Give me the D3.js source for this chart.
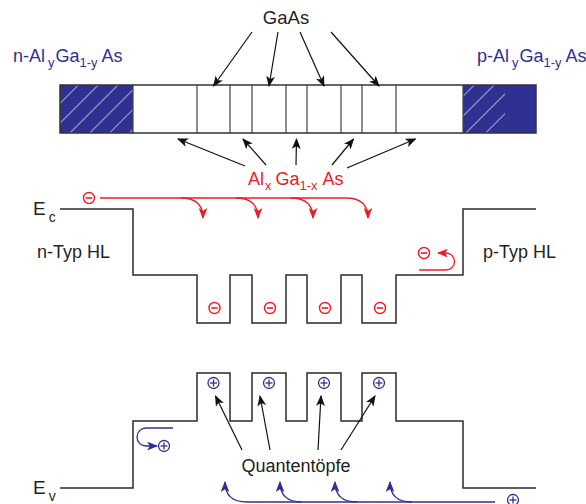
<!DOCTYPE html>
<html><head><meta charset="utf-8">
<script src="https://cdn.jsdelivr.net/npm/d3@7"></script>
<style>html,body{margin:0;padding:0;background:#fff;}svg{display:block;font-family:"Liberation Sans",Arial,Helvetica,sans-serif;}</style>
</head><body>
<script>
// ---- data ----
const layerTypes  = ["clad","barrier","well","barrier","well","barrier","well","barrier","well","barrier","clad"];
const layerWidths = [73, 64, 33, 22, 34, 21, 34, 21, 34, 67, 73];       // position units (scaled)
const bandTypes   = ["clad","barrier","well"];
const ecEnergy    = [2.79, 2.13, 1.65];   // conduction band edge (rel. units)
const evEnergy    = [0.00, 0.67, 1.15];   // valence band edge
const labelTexts  = {gaas:"GaAs", qw:"Quantentöpfe", nHL:"n-Typ HL", pHL:"p-Typ HL"};

const W = 586, H = 504;
const blue = "#2e3192", red = "#ed1c24", ink = "#2b2b2b";

const bounds = [0];
layerWidths.forEach(w => bounds.push(bounds[bounds.length-1] + w));
const layers = layerTypes.map((t,i)=>({type:t, x0:bounds[i], x1:bounds[i+1], c:(bounds[i]+bounds[i+1])/2, i}));
const wells = layers.filter(l=>l.type==="well");

const x = d3.scaleLinear().domain([0, bounds[bounds.length-1]]).range([60, 536]);
const y = d3.scaleLinear().domain([0, 2.79]).range([488, 209]);
const ec = t => ecEnergy[bandTypes.indexOf(t)];
const ev = t => evEnergy[bandTypes.indexOf(t)];

const svg = d3.select("body").append("svg").attr("width", W).attr("height", H);
const defs = svg.append("defs");

// hatch pattern
const pat = defs.append("pattern").attr("id","hatch").attr("patternUnits","userSpaceOnUse")
  .attr("width",14).attr("height",14).attr("patternTransform","rotate(45) translate(3,0)");
pat.append("rect").attr("width",14).attr("height",14).attr("fill",blue);
pat.append("line").attr("x1",0).attr("y1",0).attr("x2",0).attr("y2",14).attr("stroke","#e4e4f4").attr("stroke-width",1.3);

function marker(id, color){
  defs.append("marker").attr("id",id).attr("viewBox","0 0 10 8").attr("refX",9).attr("refY",4)
    .attr("markerWidth",11).attr("markerHeight",9).attr("markerUnits","userSpaceOnUse").attr("orient","auto")
    .append("path").attr("d","M0,0 L10,4 L0,8 L2.5,4 z").attr("fill",color);
}
marker("ah-k", "#111"); marker("ah-r", red); marker("ah-b", blue);

// ---- layer bar ----
const barTop = 85, barBot = 133;
const bar = svg.append("g");
bar.selectAll("rect.layer").data(layers).join("rect")
  .attr("x", d=>x(d.x0)).attr("y", barTop).attr("width", d=>x(d.x1)-x(d.x0)).attr("height", barBot-barTop)
  .attr("fill", d=>d.type==="clad" ? "url(#hatch)" : "#fff");
// right cladding: hatch only partly drawn -> plain blue on its right part
const rc = layers[layers.length-1];
bar.append("rect").attr("x", x(rc.x0)+42).attr("y", barTop).attr("width", x(rc.x1)-x(rc.x0)-42).attr("height", barBot-barTop).attr("fill", blue);
bar.selectAll("line.sep").data(bounds.slice(1,-1)).join("line")
  .attr("x1", d=>x(d)).attr("x2", d=>x(d)).attr("y1", barTop).attr("y2", barBot)
  .attr("stroke", "#444").attr("stroke-width", 1.2);
bar.append("rect").attr("x", x(0)).attr("y", barTop).attr("width", x(bounds[bounds.length-1])-x(0)).attr("height", barBot-barTop)
  .attr("fill","none").attr("stroke","#333").attr("stroke-width",1.5);

// ---- band edges ----
function bandPath(fn){
  const p = d3.path();
  layers.forEach((l,i)=>{
    const yy = y(fn(l.type));
    if(i===0) p.moveTo(x(l.x0), yy); else p.lineTo(x(l.x0), yy);
    p.lineTo(x(l.x1), yy);
  });
  return p.toString();
}
svg.append("path").attr("d", bandPath(ec)).attr("fill","none").attr("stroke",ink).attr("stroke-width",1.5);
svg.append("path").attr("d", bandPath(ev)).attr("fill","none").attr("stroke",ink).attr("stroke-width",1.5);

// ---- carriers ----
function minus(g, cx, cy){
  g.append("circle").attr("cx",cx).attr("cy",cy).attr("r",5.5).attr("fill","none").attr("stroke",red).attr("stroke-width",1.4);
  g.append("line").attr("x1",cx-3.2).attr("x2",cx+3.2).attr("y1",cy).attr("y2",cy).attr("stroke",red).attr("stroke-width",1.6);
}
function plus(g, cx, cy){
  g.append("circle").attr("cx",cx).attr("cy",cy).attr("r",5.5).attr("fill","none").attr("stroke",blue).attr("stroke-width",1.3);
  g.append("line").attr("x1",cx-3.5).attr("x2",cx+3.5).attr("y1",cy).attr("y2",cy).attr("stroke",blue).attr("stroke-width",1.3);
  g.append("line").attr("x1",cx).attr("x2",cx).attr("y1",cy-3.5).attr("y2",cy+3.5).attr("stroke",blue).attr("stroke-width",1.3);
}
const cg = svg.append("g");
wells.forEach(w=>{ minus(cg, x(w.c)+1, y(ec("well"))-15); plus(cg, x(w.c), y(ev("well"))+10); });

// injected electrons (top)
const eY = y(ec("clad")) - 11;
minus(cg, 89, eY);
const tipsE = wells.map(w => x(w.x0)+6);
const eLine = d3.path(); eLine.moveTo(100, eY); eLine.lineTo(tipsE[tipsE.length-1]-22, eY);
svg.append("path").attr("d", eLine.toString()).attr("stroke",red).attr("stroke-width",1.3).attr("fill","none");
tipsE.forEach(t=>{
  svg.append("path").attr("d",`M${t-22},${eY} C${t-8},${eY} ${t},${eY+6} ${t},${eY+20}`)
    .attr("stroke",red).attr("stroke-width",1.3).attr("fill","none").attr("marker-end","url(#ah-r)");
});
// reflected electron (right)
const rY = y(ec("barrier")) - 5;
minus(cg, 424, rY-17);
svg.append("path").attr("d",`M419,${rY} H446 A8.5,8.5 0 0 0 446,${rY-17} L438,${rY-17}`)
  .attr("stroke",red).attr("stroke-width",1.3).attr("fill","none").attr("marker-end","url(#ah-r)");

// injected holes (bottom)
const hY = 502;
const tipsH = wells.map(w => x(w.x0)+28);
plus(cg, 513, 500);
svg.append("path").attr("d",`M${tipsH[0]+22},${hY} H495`).attr("stroke",blue).attr("stroke-width",1.3).attr("fill","none");
tipsH.forEach(t=>{
  svg.append("path").attr("d",`M${t+22},${hY} C${t+8},${hY} ${t},${hY-6} ${t},${hY-20}`)
    .attr("stroke",blue).attr("stroke-width",1.3).attr("fill","none").attr("marker-end","url(#ah-b)");
});
// reflected hole (left)
const lY = y(ev("barrier")) + 7;
plus(cg, 164, lY+18);
svg.append("path").attr("d",`M173,${lY} H146 A9,9 0 0 0 146,${lY+18} L157,${lY+18}`)
  .attr("stroke",blue).attr("stroke-width",1.3).attr("fill","none").attr("marker-end","url(#ah-b)");

// ---- annotation arrows ----
function arrow(x1,y1,x2,y2,m){
  svg.append("line").attr("x1",x1).attr("y1",y1).attr("x2",x2).attr("y2",y2)
    .attr("stroke","#111").attr("stroke-width",1.2).attr("marker-end",`url(#${m})`);
}
const gaasStarts = [252, 278, 300, 331];
wells.forEach((w,i)=> arrow(gaasStarts[i], 32, x(w.c), barTop+1, "ah-k"));

const barriers = layers.filter(l=>l.type==="barrier");
const algStarts = [[245,166],[266,165],[296,165],[332,165],[347,168]];
const algShift = [13, 2, 0, 2, -14];
barriers.forEach((b,i)=> arrow(algStarts[i][0], algStarts[i][1], x(b.c)+algShift[i], barBot+6, "ah-k"));

const qwStarts = [242, 270, 318, 341];
const qwTipDx = [2, -9, -3, -4];
wells.forEach((w,i)=> arrow(qwStarts[i], 450, x(w.c)+qwTipDx[i], y(ev("well"))+23, "ah-k"));

// ---- text ----
function txt(xx, yy, parts, color, size, anchor){
  const t = svg.append("text").attr("x",xx).attr("y",yy).attr("fill",color).attr("font-size",size).attr("text-anchor",anchor||"start");
  parts.forEach(p=>{
    const s = t.append("tspan").text(p.t);
    if(p.sub){ s.attr("font-size", p.fs||13).attr("dy", p.dy||5).attr("dx", p.dx||0); }
    else if(p.back){ s.attr("dy", -(p.dy||5)).attr("dx", p.dx||0); }
    else if(p.dx) s.attr("dx", p.dx);
  });
  return t;
}
const tc = "#231f20";
txt(286, 24, [{t:labelTexts.gaas}], tc, 18.5, "middle");
txt(13, 62, [{t:"n-Al"},{t:"y",sub:1,dx:3},{t:"Ga",back:1,dx:1},{t:"1-y",sub:1},{t:"As",back:1,dx:4}], blue, 18);
txt(477, 62, [{t:"p-Al"},{t:"y",sub:1,dx:3},{t:"Ga",back:1,dx:1},{t:"1-y",sub:1},{t:"As",back:1,dx:4}], blue, 18);
txt(248, 185, [{t:"Al"},{t:"x",sub:1,dx:1},{t:"Ga",back:1,dx:4},{t:"1-x",sub:1},{t:"As",back:1,dx:5}], red, 18);
txt(33, 215, [{t:"E"},{t:"c",sub:1,dx:3,dy:7,fs:14}], tc, 19);
txt(33, 494, [{t:"E"},{t:"v",sub:1,dx:3,dy:7,fs:14}], tc, 19);
txt(37, 258, [{t:labelTexts.nHL}], tc, 18);
txt(483, 258, [{t:labelTexts.pHL}], tc, 18);
txt(296, 472, [{t:labelTexts.qw}], tc, 18, "middle");
</script>
</body></html>
